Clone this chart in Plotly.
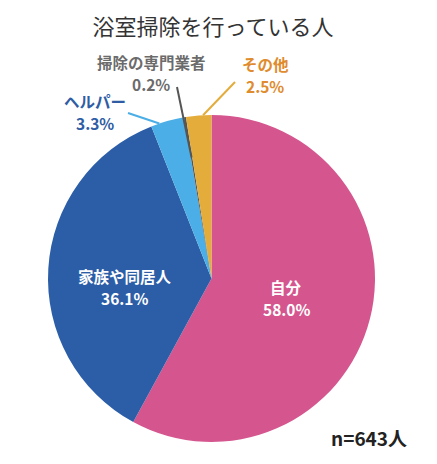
import math
import plotly.graph_objects as go

# data
labels = ["自分", "家族や同居人", "ヘルパー", "掃除の専門業者", "その他"]
values = [58.0, 36.1, 3.3, 0.2, 2.5]
colors = ["#D5568F", "#2C5EA8", "#4BAEE6", "#555555", "#E3AC3B"]
label_colors = ["white", "white", "#2F5DA5", "#6B6B6B", "#E08B2C"]
line_colors = [None, None, "#4BAEE6", "#555555", "#E3AC3B"]

OFF = 8  # page body margin
W, H = 437 - OFF, 464 - OFF
CX, CY, R = 211.5, 278.5, 163.5  # pie centre / radius in page pixels
LABEL_SIZE = 15.5
LINE_GAP = 22.5

# label spots (page pixels); leader lines go from start to (pos in slice, radius frac)
label_pos = {0: (286, 298), 1: (125, 287), 2: (95, 112), 3: (151, 73), 4: (265, 75)}
line_start = {2: (128, 113), 3: (177, 87), 4: (235, 82)}
line_end = {2: (0.25, 1.0), 3: (0.5, 0.75), 4: (0.67, 1.0)}


def px(x, y):
    return (x - OFF) / W, 1 - (y - OFF) / H


def slice_point(i, within, frac):
    total = sum(values)
    a = (sum(values[:i]) + values[i] * within) / total * 2 * math.pi
    return CX + frac * R * math.sin(a), CY - frac * R * math.cos(a)


x0d, y1d = px(CX - R, CY - R)
x1d, y0d = px(CX + R, CY + R)

fig = go.Figure(go.Pie(
    labels=labels,
    values=values,
    marker=dict(colors=colors, line=dict(width=0)),
    sort=False,
    direction="clockwise",
    rotation=0,
    textinfo="none",
    hoverinfo="label+percent",
    showlegend=False,
    domain=dict(x=[x0d, x1d], y=[y0d, y1d]),
))

font = "Noto Sans CJK JP"
annotations = []
shapes = []
for i, (lab, val) in enumerate(zip(labels, values)):
    if i in line_start:
        sx, sy = px(*line_start[i])
        ex, ey = px(*slice_point(i, *line_end[i]))
        shapes.append(dict(type="line", xref="paper", yref="paper", x0=sx, y0=sy, x1=ex, y1=ey,
                           line=dict(color=line_colors[i], width=2)))
    lx, ly = label_pos[i]
    # two separate lines: name above, percentage below
    for text, dy in ((lab, -LINE_GAP / 2), (f"{val:.1f}%", LINE_GAP / 2)):
        ax, ay = px(lx, ly + dy)
        annotations.append(dict(x=ax, y=ay, xref="paper", yref="paper",
                                text=f"<b>{text}</b>", showarrow=False,
                                xanchor="center", yanchor="middle",
                                font=dict(family=font, size=LABEL_SIZE, color=label_colors[i])))

nx, ny = px(369, 437)
annotations.append(dict(x=nx, y=ny, xref="paper", yref="paper", text="<b>n=643人</b>",
                        showarrow=False, xanchor="center", yanchor="middle",
                        font=dict(family=font, size=19, color="#222222")))

tx, ty = px(213, 27)
fig.update_layout(
    width=W, height=H,
    margin=dict(l=0, r=0, t=0, b=0),
    paper_bgcolor="white",
    title=dict(text="浴室掃除を行っている人", x=tx, xanchor="center", y=ty, yanchor="middle",
               font=dict(family=font, size=22, color="#333333")),
    annotations=annotations,
    shapes=shapes,
)

fig.write_html("out.html")
